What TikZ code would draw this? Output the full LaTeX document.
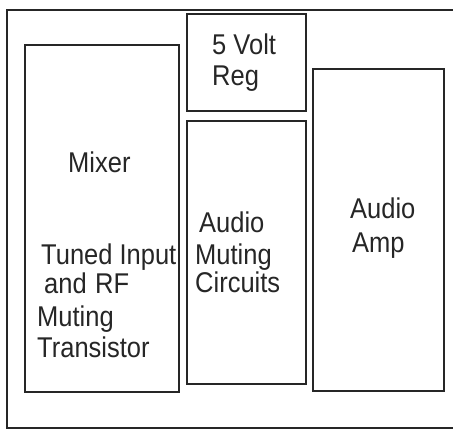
\documentclass[tikz,border=0pt]{standalone}
\usepackage{fontspec}
\usepackage{graphicx}
\setmainfont{Liberation Sans}
\definecolor{ink}{HTML}{262626}
\newcommand\vstr[1]{\scalebox{1}[1.12]{#1}}
\begin{document}
\begin{tikzpicture}[x=1pt,y=-1pt,
  blockbox/.style={draw=ink,line width=2pt,inner sep=0pt,minimum width=#1},
  lbl/.style={anchor=base west,inner sep=0pt,text=ink,font=\fontsize{25.5}{31}\selectfont}]
\useasboundingbox[fill=white] (0,0) rectangle (453,430);
\draw[ink,line width=2pt] (453,10) -- (7,10) -- (7,428) -- (453,428);
\node[blockbox=154pt,minimum height=347pt] (mixer) at (102,218.5) {};
\node[blockbox=119pt,minimum height=97pt] (reg) at (246.5,62.5) {};
\node[blockbox=119pt,minimum height=263pt] (mute) at (246.5,252.5) {};
\node[blockbox=131pt,minimum height=322pt] (amp) at (378.5,230) {};
\node[lbl] (tmix) at (68,173) {\vstr{Mixer}};
\node[lbl] (tin1) at (41,265) {\vstr{Tuned Input}};
\node[lbl] (tin2) at (44,294) {\vstr{and\,\,RF}};
\node[lbl] (tin3) at (37,327) {\vstr{Muting}};
\node[lbl] (tin4) at (37,358) {\vstr{Transistor}};
\node[lbl] (treg1) at (212,55) {\vstr{5 Volt}};
\node[lbl] (treg2) at (212,86) {\vstr{Reg}};
\node[lbl] (tmu1) at (199,233) {\vstr{Audio}};
\node[lbl] (tmu2) at (195,265) {\vstr{Muting}};
\node[lbl] (tmu3) at (195,293) {\vstr{Circuits}};
\node[lbl] (tamp1) at (350,219) {\vstr{Audio}};
\node[lbl] (tamp2) at (352,253) {\vstr{Amp}};
\end{tikzpicture}
\end{document}
